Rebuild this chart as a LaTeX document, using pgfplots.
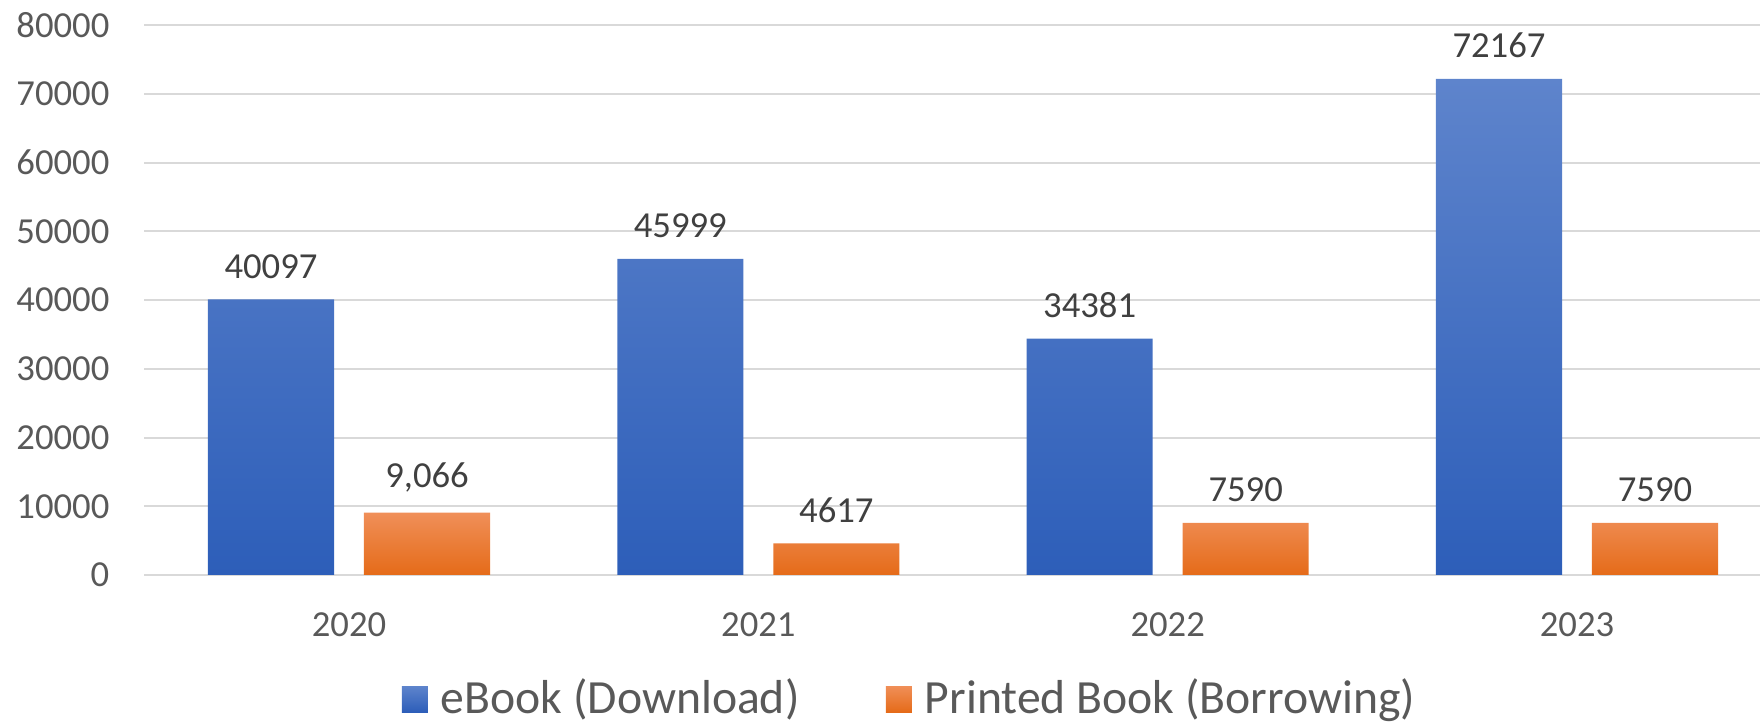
\documentclass[border=0pt]{standalone}
\usepackage{pgfplots}
\pgfplotsset{compat=1.18}
\usepackage{fontspec}
\setmainfont{Carlito}
\definecolor{tickgray}{HTML}{595959}
\definecolor{labgray}{HTML}{404040}
\definecolor{gridgray}{HTML}{D9D9D9}
\definecolor{bluetop}{HTML}{5E84CC}
\definecolor{bluemid}{HTML}{4473C9}
\definecolor{bluebot}{HTML}{2D5EB9}
\definecolor{orgtop}{HTML}{F08F58}
\definecolor{orgmid}{HTML}{F47E2B}
\definecolor{orgbot}{HTML}{E56B19}
\pgfplotstableread{
x y lab
0 40097 40097
1 45999 45999
2 34381 34381
3 72167 72167
}\ebook
\pgfplotstableread{
x y lab
0 9066 9,066
1 4617 4617
2 7590 7590
3 7590 7590
}\printed
\begin{document}
\begin{tikzpicture}
\begin{axis}[
  at={(0,0)}, anchor=south west,
  scale only axis, width=491.2pt, height=165pt,
  xmin=-0.5, xmax=3.5, ymin=0, ymax=80000,
  clip=false,
  ybar,
  axis line style={draw=none},
  major tick length=0pt,
  scaled y ticks=false,
  ymajorgrids, grid style={gridgray, line width=0.6pt},
  xtick={0,1,2,3}, xticklabels={2020,2021,2022,2023},
  ytick={0,10000,20000,30000,40000,50000,60000,70000,80000},
  yticklabels={0,10000,20000,30000,40000,50000,60000,70000,80000},
  x tick label style={font=\fontsize{11}{13}\selectfont, text=tickgray, inner sep=0pt, anchor=north, yshift=-11pt},
  y tick label style={font=\fontsize{11}{13}\selectfont, text=tickgray, inner sep=0pt, anchor=east, xshift=-10.3pt},
  nodes near coords,
  point meta=explicit symbolic,
  every node near coord/.append style={font=\fontsize{11}{13}\selectfont, text=labgray, inner sep=0pt, anchor=south, yshift=6pt},
  legend columns=2,
  legend image code/.code={\path[#1, draw=none] (0pt,-3.9pt) rectangle (7.8pt,3.9pt);},
  legend style={draw=none, fill=none, at={(0.4707,-0.2255)}, anchor=center,
    font=\fontsize{14.3}{17}\selectfont, text=tickgray,
    nodes={inner xsep=3.9pt, inner ysep=0pt},
    /tikz/every even column/.append style={column sep=22pt}},
]
\addplot[bar width=0.308, bar shift=-0.1906, draw=none, top color=bluetop, middle color=bluemid, bottom color=bluebot] table[x=x, y=y, meta=lab] {\ebook};
\addlegendentry{eBook (Download)}
\addplot[bar width=0.308, bar shift=0.1906, draw=none, top color=orgtop, middle color=orgmid, bottom color=orgbot] table[x=x, y=y, meta=lab] {\printed};
\addlegendentry{Printed Book (Borrowing)}
\end{axis}
\pgfresetboundingbox
\path[use as bounding box] (-43.3pt,-44.4pt) rectangle (484.7pt,172.5pt);
\end{tikzpicture}
\end{document}
